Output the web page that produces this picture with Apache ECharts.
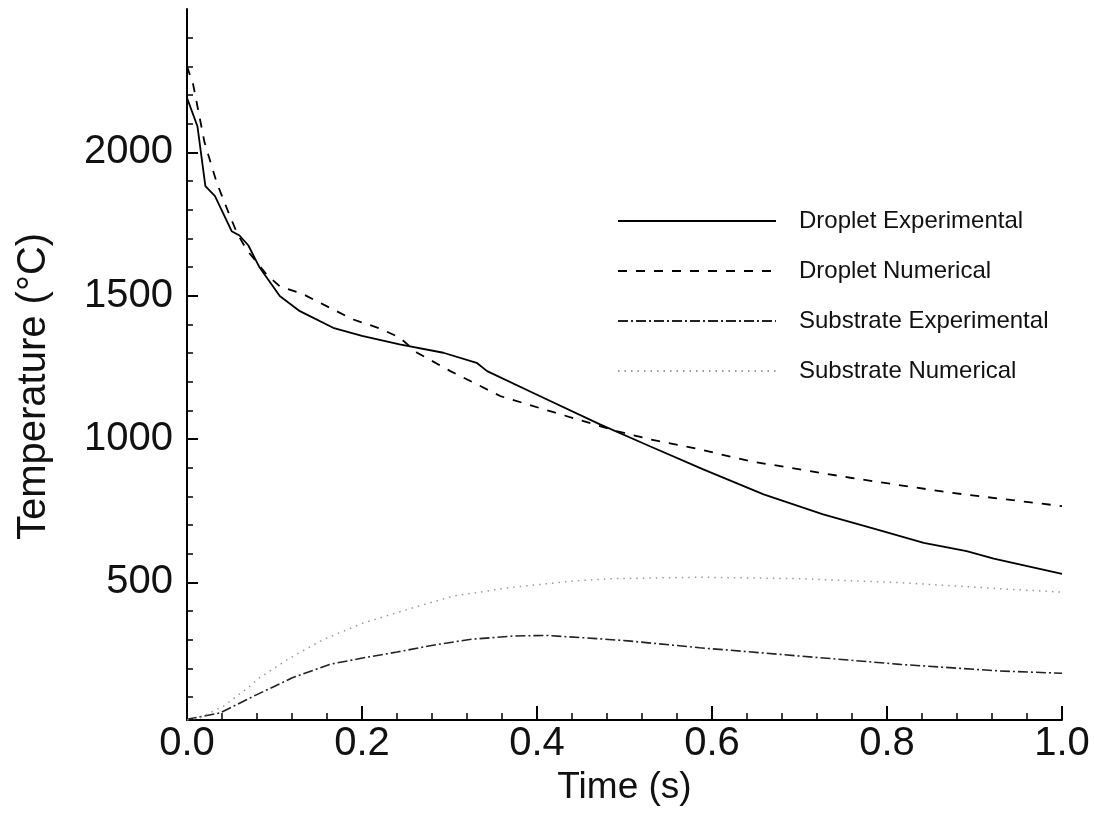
<!DOCTYPE html>
<html>
<head>
<meta charset="utf-8">
<script src="https://cdn.jsdelivr.net/npm/echarts@6/dist/echarts.min.js"></script>
<style>
html,body{margin:0;padding:0;background:#fff;}
#chart{width:1094px;height:818px;}
</style>
</head>
<body>
<div id="chart"></div>
<script>
// ---- data (time in s, temperature in °C) ----
const dropExpTime = [0.000,0.012,0.021,0.032,0.051,0.060,0.070,0.083,0.106,0.129,0.167,0.200,0.243,0.293,0.331,0.343,0.403,0.472,0.529,0.590,0.659,0.727,0.788,0.842,0.891,0.922,1.000];
const dropExpTemp = [2190,2090,1882,1847,1725,1710,1676,1598,1499,1446,1388,1360,1330,1301,1266,1237,1150,1051,975,894,807,737,685,638,609,583,530];

const dropNumTime = [0.000,0.007,0.020,0.034,0.049,0.057,0.068,0.091,0.106,0.133,0.163,0.190,0.221,0.243,0.263,0.301,0.358,0.415,0.491,0.529,0.583,0.643,0.758,0.872,1.000];
const dropNumTemp = [2300,2237,2035,1894,1778,1720,1661,1574,1533,1505,1458,1417,1385,1354,1301,1237,1150,1097,1028,999,966,923,865,813,766];

const subExpTime = [0.000,0.003,0.038,0.076,0.121,0.163,0.202,0.240,0.281,0.323,0.373,0.411,0.468,0.504,0.586,0.701,0.815,0.929,1.000];
const subExpTemp = [20,24,45,103,168,214,237,257,281,301,313,315,304,296,272,243,214,191,183];

const subNumTime = [0.000,0.015,0.042,0.072,0.083,0.118,0.156,0.202,0.259,0.304,0.369,0.442,0.487,0.586,0.701,0.815,0.929,1.000];
const subNumTemp = [20,28,69,138,168,237,301,359,412,452,482,505,513,518,513,499,478,466];

const seriesNames = ['Droplet Experimental','Droplet Numerical','Substrate Experimental','Substrate Numerical'];
const yMajorTicks = [500,1000,1500,2000];
const yMinorTicks = [100,200,300,400,600,700,800,900,1100,1200,1300,1400,1600,1700,1800,1900,2100,2200,2300,2400];
const xAxisName = 'Time (s)';
const yAxisName = 'Temperature (°C)';

const pairs = (t, v) => t.map((x, i) => [x, v[i]]);
const FONT = 'Liberation Sans, Arial, Helvetica, sans-serif';

const chart = echarts.init(document.getElementById('chart'), null, {renderer: 'canvas'});
chart.setOption({
  backgroundColor: '#ffffff',
  animation: false,
  grid: {left: 187, right: 32, top: 9, bottom: 98, containLabel: false},
  legend: {
    orient: 'vertical',
    left: 617,
    top: 208,
    padding: 0,
    itemWidth: 158,
    itemHeight: 14,
    itemGap: 24,
    data: seriesNames,
    itemStyle: {opacity: 0},
    textStyle: {fontFamily: FONT, fontSize: 24, color: '#111', lineHeight: 26, padding: [0, 0, 0, 18]}
  },
  xAxis: {
    type: 'value',
    min: 0, max: 1, interval: 0.2,
    name: xAxisName,
    nameLocation: 'middle',
    nameGap: 46,
    nameTextStyle: {fontFamily: FONT, fontSize: 37, color: '#111'},
    axisLine: {show: true, onZero: false, lineStyle: {color: '#000', width: 2}},
    axisTick: {show: true, inside: true, length: 14, lineStyle: {color: '#000', width: 2}},
    minorTick: {show: true, splitNumber: 5, length: 7, lineStyle: {color: '#000', width: 1.5}},
    axisLabel: {fontFamily: FONT, fontSize: 40, color: '#111', margin: 4, formatter: v => v.toFixed(1)},
    splitLine: {show: false},
    minorSplitLine: {show: false}
  },
  yAxis: [
    {
      type: 'value',
      min: 20, max: 2500,
      name: yAxisName,
      nameLocation: 'middle',
      nameGap: 133,
      nameTextStyle: {fontFamily: FONT, fontSize: 40, color: '#111', padding: [0, 44, 0, 0]},
      axisLine: {show: true, lineStyle: {color: '#000', width: 2}},
      axisTick: {show: true, inside: true, length: 11, customValues: yMajorTicks, lineStyle: {color: '#000', width: 2}},
      axisLabel: {fontFamily: FONT, fontSize: 40, color: '#111', margin: 14, customValues: yMajorTicks, formatter: v => String(v)},
      splitLine: {show: false}
    },
    {
      type: 'value',
      min: 20, max: 2500,
      position: 'left',
      axisLine: {show: false},
      axisTick: {show: true, inside: true, length: 6, customValues: yMinorTicks, lineStyle: {color: '#000', width: 1.5}},
      axisLabel: {show: false},
      splitLine: {show: false}
    }
  ],
  series: [
    {
      name: seriesNames[0], type: 'line', symbol: 'none', smooth: false,
      data: pairs(dropExpTime, dropExpTemp),
      lineStyle: {color: '#000', width: 1.8, type: 'solid'},
      itemStyle: {color: '#000'}
    },
    {
      name: seriesNames[1], type: 'line', symbol: 'none',
      data: pairs(dropNumTime, dropNumTemp),
      lineStyle: {color: '#000', width: 1.8, type: [9, 9]},
      itemStyle: {color: '#000'}
    },
    {
      name: seriesNames[2], type: 'line', symbol: 'none',
      data: pairs(subExpTime, subExpTemp),
      lineStyle: {color: '#222', width: 1.6, type: [10, 3, 2, 3]},
      itemStyle: {color: '#222'}
    },
    {
      name: seriesNames[3], type: 'line', symbol: 'none',
      data: pairs(subNumTime, subNumTemp),
      lineStyle: {color: '#9a9a9a', width: 1.5, type: [1.5, 5]},
      itemStyle: {color: '#9a9a9a'}
    }
  ]
});
</script>
</body>
</html>
